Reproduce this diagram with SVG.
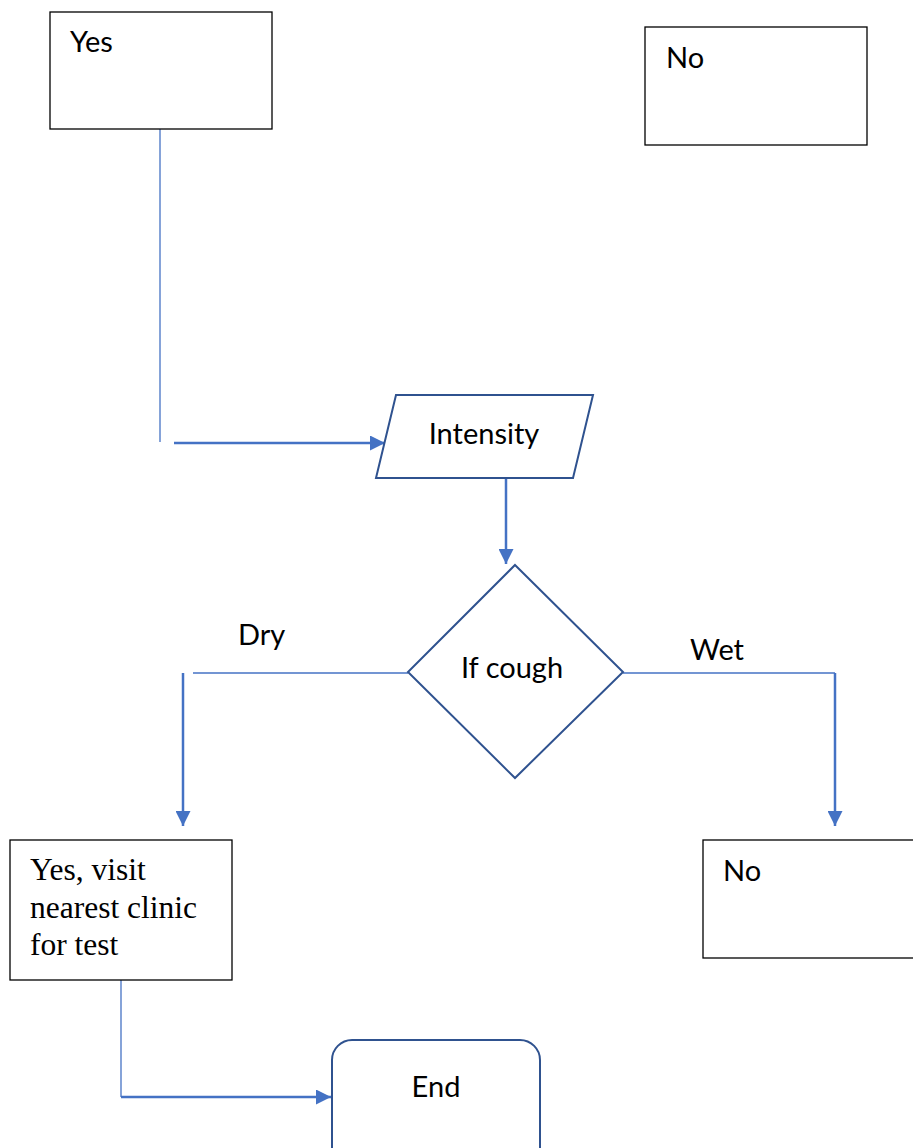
<svg xmlns="http://www.w3.org/2000/svg" width="913" height="1148" viewBox="0 0 913 1148">
<defs>
<style>
.box{fill:#fff;stroke:#000;stroke-width:1.3}
.shape{fill:#fff;stroke:#2F528F;stroke-width:2}
.t{font-family:Lato,"Open Sans",sans-serif;font-size:29px;fill:#000}
.s{font-family:"Liberation Serif","Times New Roman",serif;font-size:31.5px;fill:#000}
.thin{fill:none;stroke:#4472C4;stroke-width:1.3}
.thick{fill:none;stroke:#4472C4;stroke-width:2.5}
</style>
<marker id="ah" markerWidth="6" markerHeight="6" refX="6" refY="3" orient="auto" markerUnits="strokeWidth">
<path d="M0,0 L6,3 L0,6 Z" fill="#4472C4"/>
</marker>
</defs>
<rect width="913" height="1148" fill="#fff"/>
<g id="connectors">
<line class="thin" x1="160" y1="129" x2="160" y2="442"/>
<line class="thick" x1="174" y1="443" x2="385" y2="443" marker-end="url(#ah)"/>
<line class="thick" x1="506" y1="478" x2="506" y2="564" marker-end="url(#ah)"/>
<line class="thin" x1="193" y1="673" x2="408" y2="673"/>
<line class="thick" x1="183" y1="673" x2="183" y2="826" marker-end="url(#ah)"/>
<line class="thin" x1="623" y1="673" x2="835" y2="673"/>
<line class="thick" x1="835" y1="673" x2="835" y2="826" marker-end="url(#ah)"/>
<line class="thin" x1="121" y1="980" x2="121" y2="1097"/>
<line class="thick" x1="121" y1="1097" x2="331" y2="1097" marker-end="url(#ah)"/>
</g>
<g id="yes-top">
<rect class="box" x="50" y="12" width="222" height="117"/>
<text class="t" x="70" y="52">Yes</text>
</g>
<g id="no-top">
<rect class="box" x="645" y="27" width="222" height="118"/>
<text class="t" x="666" y="68">No</text>
</g>
<g id="intensity">
<polygon class="shape" points="396,395 593,395 573,478 376,478"/>
<text class="t" x="484" y="444" text-anchor="middle">Intensity</text>
</g>
<g id="if-cough">
<polygon class="shape" points="515,565 623,672 515,778 408,672"/>
<text class="t" x="512" y="678" text-anchor="middle">If cough</text>
</g>
<g id="labels">
<text class="t" x="238" y="645">Dry</text>
<text class="t" x="690" y="660">Wet</text>
</g>
<g id="clinic">
<rect class="box" x="10" y="840" width="222" height="140"/>
<text class="s" x="30" y="880">Yes, visit</text>
<text class="s" x="30" y="918">nearest clinic</text>
<text class="s" x="30" y="955">for test</text>
</g>
<g id="no-bottom">
<rect class="box" x="703" y="840" width="220" height="118"/>
<text class="t" x="723" y="881">No</text>
</g>
<g id="end">
<rect class="shape" x="332" y="1040" width="208" height="130" rx="20"/>
<text class="t" x="436" y="1097" text-anchor="middle">End</text>
</g>
</svg>
